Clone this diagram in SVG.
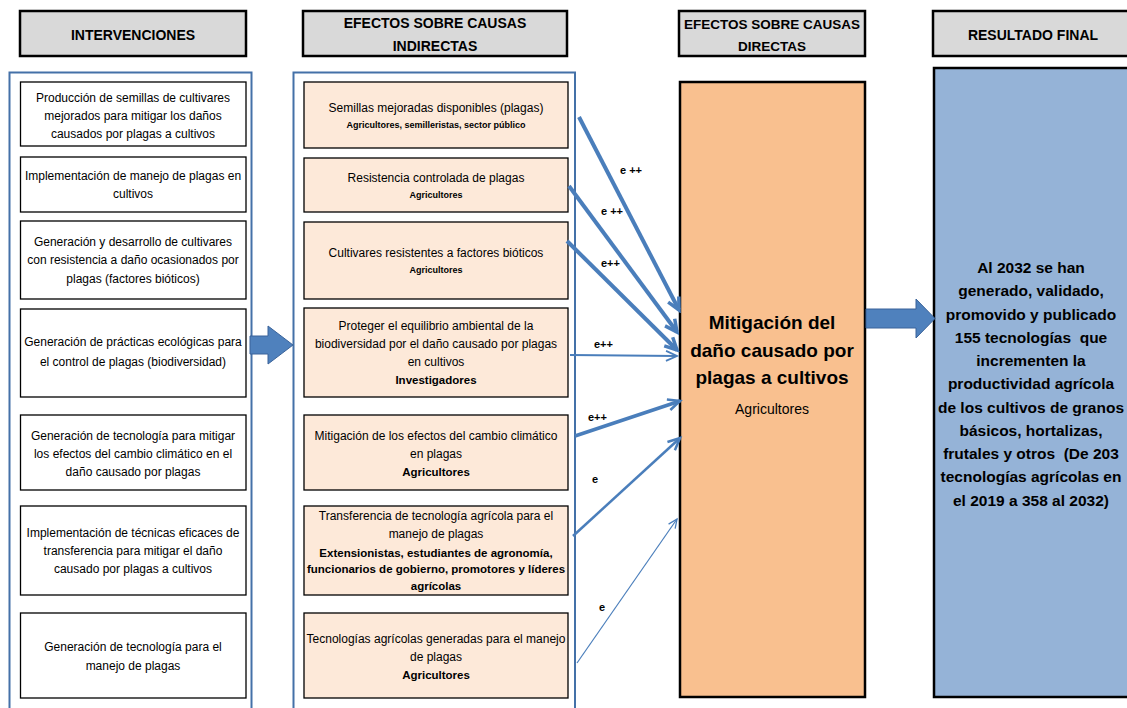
<svg xmlns="http://www.w3.org/2000/svg" width="1127" height="708" viewBox="0 0 1127 708">
<style>
text{font-family:"Liberation Sans",Arial,sans-serif;fill:#000;text-anchor:middle}
.hdr{fill:#D9D9D9;stroke:#000;stroke-width:2.5}
.hdrt{font-size:14px;font-weight:bold}
.cont{fill:none;stroke:#4471A8;stroke-width:2}
.lbox{fill:#fff;stroke:#000;stroke-width:1.3}
.mbox{fill:#FDE9D9;stroke:#000;stroke-width:1.3}
.t{font-size:12px}
.b{font-size:11.5px;font-weight:bold}
.bs{font-size:9px;font-weight:bold}
.conn{fill:none;stroke:#4A7EBB}
.lab{font-size:11px;font-weight:bold;text-anchor:start}
.blk{fill:#4F81BD;stroke:#3A639A;stroke-width:1}
.res{font-size:15.5px;font-weight:bold;white-space:pre}
</style>
<defs>
<marker id="ah4" markerUnits="userSpaceOnUse" markerWidth="16" markerHeight="16" refX="13" refY="7" orient="auto" viewBox="0 0 16 14">
<path d="M1,1 L13,7 L1,13" fill="none" stroke="#4A7EBB" stroke-width="3.5"/>
</marker>
<marker id="ah3" markerUnits="userSpaceOnUse" markerWidth="16" markerHeight="16" refX="13" refY="7" orient="auto" viewBox="0 0 16 14">
<path d="M1,1.5 L13,7 L1,12.5" fill="none" stroke="#4A7EBB" stroke-width="2.5"/>
</marker>
<marker id="ah2" markerUnits="userSpaceOnUse" markerWidth="16" markerHeight="16" refX="13" refY="7" orient="auto" viewBox="0 0 16 14">
<path d="M2,2 L13,7 L2,12" fill="none" stroke="#4A7EBB" stroke-width="1.8"/>
</marker>
<marker id="ah1" markerUnits="userSpaceOnUse" markerWidth="12" markerHeight="12" refX="10" refY="5" orient="auto" viewBox="0 0 12 10">
<path d="M1,1 L10,5 L1,9" fill="none" stroke="#4A7EBB" stroke-width="1.3"/>
</marker>
</defs>

<g id="headers">
<g id="h-intervenciones"><rect class="hdr" x="20" y="11" width="226" height="45"/><text class="hdrt" x="133" y="40">INTERVENCIONES</text></g>
<g id="h-indirectas"><rect class="hdr" x="303" y="11" width="264" height="45"/><text class="hdrt" x="435" y="28">EFECTOS SOBRE CAUSAS</text><text class="hdrt" x="435" y="51">INDIRECTAS</text></g>
<g id="h-directas"><rect class="hdr" x="679" y="11" width="186" height="45"/><text class="hdrt" x="772" y="29" style="font-size:13.5px">EFECTOS SOBRE CAUSAS</text><text class="hdrt" x="772" y="51" style="font-size:13.5px">DIRECTAS</text></g>
<g id="h-resultado"><rect class="hdr" x="933" y="11" width="210" height="45"/><text class="hdrt" x="1033" y="40">RESULTADO FINAL</text></g>
</g>

<g id="containers">
<rect class="cont" x="9.5" y="72.5" width="242" height="660"/>
<rect class="cont" x="293.5" y="72.5" width="281.5" height="660"/>
</g>

<g id="interventions">
<g id="i1"><rect class="lbox" x="20.5" y="82" width="225.5" height="64"/><text class="t" x="133" y="102">Producción de semillas de cultivares</text><text class="t" x="133" y="120">mejorados para mitigar los daños</text><text class="t" x="133" y="138">causados por plagas a cultivos</text></g>
<g id="i2"><rect class="lbox" x="20.5" y="157" width="225.5" height="55"/><text class="t" x="133" y="180">Implementación de manejo de plagas en</text><text class="t" x="133" y="198">cultivos</text></g>
<g id="i3"><rect class="lbox" x="20.5" y="221" width="225.5" height="78"/><text class="t" x="133" y="246">Generación y desarrollo de cultivares</text><text class="t" x="133" y="264">con resistencia a daño ocasionados por</text><text class="t" x="133" y="283">plagas (factores bióticos)</text></g>
<g id="i4"><rect class="lbox" x="20.5" y="309" width="225.5" height="88"/><text class="t" x="133" y="346">Generación de prácticas ecológicas para</text><text class="t" x="133" y="366">el control de plagas (biodiversidad)</text></g>
<g id="i5"><rect class="lbox" x="20.5" y="415" width="225.5" height="75"/><text class="t" x="133" y="440">Generación de tecnología para mitigar</text><text class="t" x="133" y="458">los efectos del cambio climático en el</text><text class="t" x="133" y="476">daño causado por plagas</text></g>
<g id="i6"><rect class="lbox" x="20.5" y="506" width="225.5" height="89"/><text class="t" x="133" y="537">Implementación de técnicas eficaces de</text><text class="t" x="133" y="555">transferencia para mitigar el daño</text><text class="t" x="133" y="573">causado por plagas a cultivos</text></g>
<g id="i7"><rect class="lbox" x="20.5" y="613" width="225.5" height="85"/><text class="t" x="133" y="651">Generación de tecnología para el</text><text class="t" x="133" y="670">manejo de plagas</text></g>
</g>

<g id="indirect-effects">
<g id="m1"><rect class="mbox" x="304" y="82" width="264" height="66"/><text class="t" x="436" y="112">Semillas mejoradas disponibles (plagas)</text><text class="bs" x="436" y="128">Agricultores, semilleristas, sector público</text></g>
<g id="m2"><rect class="mbox" x="304" y="158" width="264" height="54"/><text class="t" x="436" y="182">Resistencia controlada de plagas</text><text class="bs" x="436" y="198">Agricultores</text></g>
<g id="m3"><rect class="mbox" x="304" y="222" width="264" height="77"/><text class="t" x="436" y="257">Cultivares resistentes a factores bióticos</text><text class="bs" x="436" y="273">Agricultores</text></g>
<g id="m4"><rect class="mbox" x="304" y="308" width="264" height="89"/><text class="t" x="436" y="330">Proteger el equilibrio ambiental de la</text><text class="t" x="436" y="348">biodiversidad por el daño causado por plagas</text><text class="t" x="436" y="366">en cultivos</text><text class="b" x="436" y="384">Investigadores</text></g>
<g id="m5"><rect class="mbox" x="304" y="415" width="264" height="75"/><text class="t" x="436" y="440">Mitigación de los efectos del cambio climático</text><text class="t" x="436" y="458">en plagas</text><text class="b" x="436" y="476">Agricultores</text></g>
<g id="m6"><rect class="mbox" x="304" y="506" width="264" height="89"/><text class="t" x="436" y="520">Transferencia de tecnología agrícola para el</text><text class="t" x="436" y="538">manejo de plagas</text><text class="b" x="436" y="557">Extensionistas, estudiantes de agronomía,</text><text class="b" x="436" y="573">funcionarios de gobierno, promotores y líderes</text><text class="b" x="436" y="590">agrícolas</text></g>
<g id="m7"><rect class="mbox" x="304" y="613" width="264" height="85"/><text class="t" x="436" y="643">Tecnologías agrícolas generadas para el manejo</text><text class="t" x="436" y="661">de plagas</text><text class="b" x="436" y="679">Agricultores</text></g>
</g>

<g id="direct-effect">
<rect x="680" y="82" width="185" height="615" fill="#F9C08F" stroke="#000" stroke-width="2.5"/>
<text x="772" y="329" style="font-size:19px;font-weight:bold">Mitigación del</text>
<text x="772" y="357" style="font-size:19px;font-weight:bold">daño causado por</text>
<text x="772" y="384" style="font-size:19px;font-weight:bold">plagas a cultivos</text>
<text x="772" y="414" style="font-size:14px">Agricultores</text>
</g>

<g id="final-result">
<rect x="934" y="68" width="210" height="629" fill="#95B3D7" stroke="#000" stroke-width="2.5"/>
<text class="res" x="1031" y="273">Al 2032 se han</text>
<text class="res" x="1031" y="296">generado, validado,</text>
<text class="res" x="1031" y="320">promovido y publicado</text>
<text class="res" x="1031" y="343">155 tecnologías  que</text>
<text class="res" x="1031" y="366">incrementen la</text>
<text class="res" x="1031" y="389">productividad agrícola</text>
<text class="res" x="1031" y="413">de los cultivos de granos</text>
<text class="res" x="1031" y="436">básicos, hortalizas,</text>
<text class="res" x="1031" y="459">frutales y otros  (De 203</text>
<text class="res" x="1031" y="482">tecnologías agrícolas en</text>
<text class="res" x="1031" y="506">el 2019 a 358 al 2032)</text>
</g>

<g id="connectors">
<path class="blk" d="M250,336 L268,336 L268,326 L293,345 L268,364 L268,354 L250,354 Z"/>
<path class="blk" d="M866,309 L916,309 L916,299 L935,318.5 L916,338 L916,328 L866,328 Z"/>
<line class="conn" x1="579" y1="117" x2="679" y2="310" stroke-width="4" marker-end="url(#ah4)"/>
<line class="conn" x1="569" y1="186" x2="677" y2="332" stroke-width="4" marker-end="url(#ah4)"/>
<line class="conn" x1="567" y1="241" x2="677" y2="350" stroke-width="4" marker-end="url(#ah4)"/>
<line class="conn" x1="570" y1="355" x2="677" y2="356" stroke-width="1.8" marker-end="url(#ah2)"/>
<line class="conn" x1="575" y1="436" x2="680" y2="401" stroke-width="3.5" marker-end="url(#ah3)"/>
<line class="conn" x1="573" y1="536" x2="680" y2="438" stroke-width="2.5" marker-end="url(#ah3)"/>
<line class="conn" x1="577" y1="663" x2="677" y2="519" stroke-width="1.2" marker-end="url(#ah1)"/>
<text class="lab" x="620" y="174">e ++</text>
<text class="lab" x="601" y="215">e ++</text>
<text class="lab" x="601" y="267">e++</text>
<text class="lab" x="594" y="348">e++</text>
<text class="lab" x="588" y="421">e++</text>
<text class="lab" x="592" y="483">e</text>
<text class="lab" x="599" y="611">e</text>
</g>
</svg>
